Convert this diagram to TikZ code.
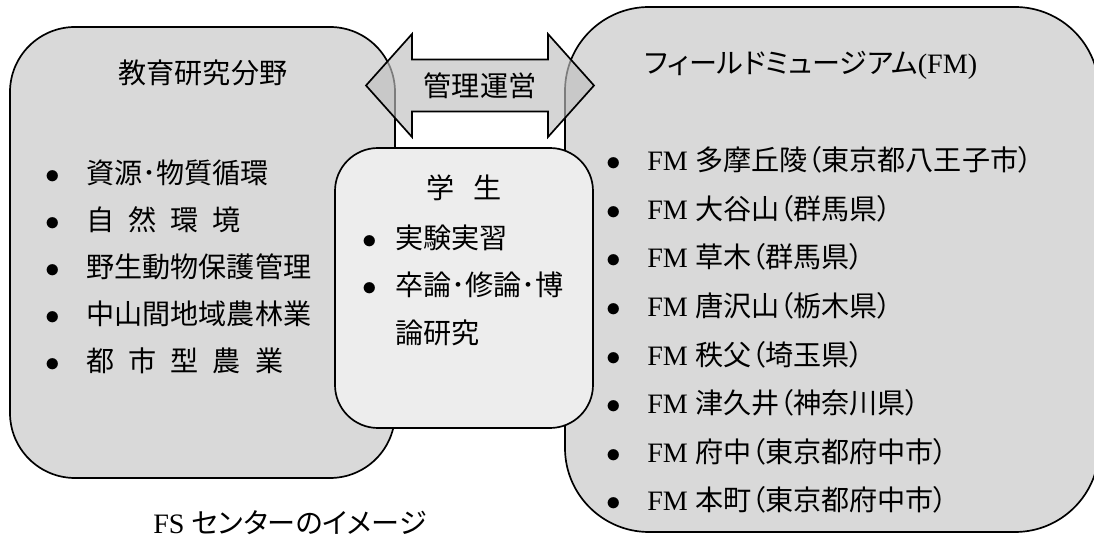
\documentclass[tikz,border=0pt]{standalone}
\usepackage{fontspec}
\usepackage{tikz}

\setmainfont{Liberation Serif}
\newfontfamily\jp{Noto Sans CJK JP}
\newfontfamily\jpp[RawFeature=+palt]{Noto Sans CJK JP}
\newcommand{\dotitem}{\makebox[1.46em][l]{$\bullet$}}
\newcommand{\dotitemnarrow}{\makebox[1.17em][l]{$\bullet$}}

\begin{document}
\begin{tikzpicture}[
  every node/.style={font=\fontsize{20}{24}\selectfont},
  panel/.style={draw, line width=1.2pt, rounded corners=#1, inner sep=0pt},
  entry/.style={anchor=west, inner sep=0pt}]

\useasboundingbox (0,0) rectangle (27.35,13.45);

% the three panels
\node[panel=1.625cm, fill=black!15, minimum width=9.625cm, minimum height=11.275cm] (research) at (5.0625,7.1375) {};
\node[panel=2.1cm, fill=black!15, minimum width=13.35cm, minimum height=13.125cm] (museum) at (20.8,6.7125) {};

\draw[line width=1.2pt, fill=black!25, fill opacity=0.65] (9.15,11.3125) -- ++(1.15,1.2875) -- ++(0,-0.6375) -- ++(3.4,0) -- ++(0,0.6375) -- ++(1.15,-1.2875) -- ++(-1.15,-1.2875) -- ++(0,0.6375) -- ++(-3.4,0) -- ++(0,-0.6375) -- cycle;
\node (manage) at (12,11.3125) {\jp 管理運営};

\node[panel=1.075cm, fill=black!7, minimum width=6.45cm, minimum height=7cm] (student) at (11.6,6.25) {};

% research
\node (researchtitle) at (5.075,11.625) {\jp 教育研究分野};
\node[entry] (res1) at (1.125,9.125) {\dotitem\jp 資源･物質循環};
\node[entry] (res2) at (1.125,7.95) {\dotitem\jp 自\hspace{0.5em}然\hspace{0.5em}環\hspace{0.5em}境};
\node[entry] (res3) at (1.125,6.775) {\dotitem\jp 野生動物保護管理};
\node[entry] (res4) at (1.125,5.6) {\dotitem\jp 中山間地域農林業};
\node[entry] (res5) at (1.125,4.425) {\dotitem\jp 都\hspace{0.5em}市\hspace{0.5em}型\hspace{0.5em}農\hspace{0.5em}業};

% student
\node (studenttitle) at (11.6,8.75) {\jp 学\hspace{0.7em}生};
\node[entry] (stu1) at (9.05,7.5) {\dotitemnarrow\jp 実験実習};
\node[entry] (stu2) at (9.05,6.325) {\dotitemnarrow\jp 卒論･修論･博};
\node[entry] (stu2b) at (9.875,5.125) {\jp 論研究};

% field museums
\node (museumtitle) at (20.275,11.825) {{\jpp フィールドミュージアム}(FM)};
\node[entry] (fm1) at (15.15,9.45) {\dotitem FM {\jpp 多摩丘陵（東京都八王子市）}};
\node[entry] (fm2) at (15.15,8.235) {\dotitem FM {\jpp 大谷山（群馬県）}};
\node[entry] (fm3) at (15.15,7.02) {\dotitem FM {\jpp 草木（群馬県）}};
\node[entry] (fm4) at (15.15,5.805) {\dotitem FM {\jpp 唐沢山（栃木県）}};
\node[entry] (fm5) at (15.15,4.59) {\dotitem FM {\jpp 秩父（埼玉県）}};
\node[entry] (fm6) at (15.15,3.375) {\dotitem FM {\jpp 津久井（神奈川県）}};
\node[entry] (fm7) at (15.15,2.16) {\dotitem FM {\jpp 府中（東京都府中市）}};
\node[entry] (fm8) at (15.15,0.945) {\dotitem FM {\jpp 本町（東京都府中市）}};

\node (caption) at (7.25,0.38) {FS {\jpp センターのイメージ}};

\end{tikzpicture}
\end{document}
